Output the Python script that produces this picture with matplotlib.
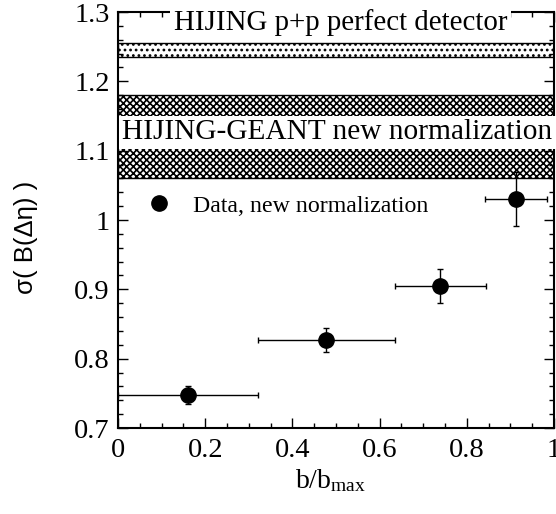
import matplotlib
matplotlib.use("Agg")
import matplotlib.pyplot as plt
from matplotlib.lines import Line2D
from matplotlib.ticker import MultipleLocator

# ---- data ----
b_frac = [0.16, 0.478, 0.739, 0.913]
b_err = [0.16, 0.158, 0.104, 0.072]
sigma = [0.748, 0.827, 0.905, 1.030]
sigma_err = [0.013, 0.017, 0.024, 0.039]

band_pp = (1.235, 1.255)        # HIJING p+p perfect detector
band_geant = (1.06, 1.18)       # HIJING-GEANT new normalization

x_ticks = [0, 0.2, 0.4, 0.6, 0.8, 1.0]
x_ticklabels = ["0", "0.2", "0.4", "0.6", "0.8", "1"]
y_ticks = [0.7, 0.8, 0.9, 1.0, 1.1, 1.2, 1.3]
y_ticklabels = ["0.7", "0.8", "0.9", "1", "1.1", "1.2", "1.3"]

label_pp = "HIJING p+p perfect detector"
label_geant = "HIJING-GEANT new normalization"
label_data = "Data, new normalization"

# ---- style ----
serif = "Liberation Serif"
plt.rcParams["font.family"] = [serif, "DejaVu Serif"]
plt.rcParams["mathtext.fontset"] = "custom"
plt.rcParams["mathtext.rm"] = serif
plt.rcParams["mathtext.it"] = serif + ":italic"
plt.rcParams["hatch.linewidth"] = 1.2

fig = plt.figure(figsize=(5.56, 5.14), dpi=100)
ax = fig.add_axes([118 / 556, 1 - 428 / 514, 436 / 556, 416 / 514])
ax.set_xlim(0, 1)
ax.set_ylim(0.7, 1.3)

# bands
ax.axhspan(band_pp[0], band_pp[1], facecolor="white", edgecolor="black",
           hatch="...", linewidth=1.0, zorder=1)
ax.axhspan(band_geant[0], band_geant[1], facecolor="white", edgecolor="black",
           hatch="xxxxx", linewidth=1.0, zorder=1)

# data points
ax.errorbar(b_frac, sigma, xerr=b_err, yerr=sigma_err, fmt="o", color="black",
            ms=11, elinewidth=1.0, capsize=2.2, capthick=1.0, zorder=3)

# labels in the bands
ax.text(0.51, 1.274, label_pp, ha="center", va="baseline", fontsize=20.8,
        bbox=dict(boxstyle="square,pad=0.12", facecolor="white", edgecolor="none"),
        zorder=5)
ax.text(0.503, 1.1167, label_geant, ha="center", va="baseline", fontsize=21.2,
        bbox=dict(boxstyle="square,pad=0.12", facecolor="white", edgecolor="none"),
        zorder=5)

# legend
handle = Line2D([], [], marker="o", linestyle="none", color="black", ms=11)
ax.legend([handle], [label_data], loc="center left",
          bbox_to_anchor=(0.067, 0.534), frameon=False, fontsize=17.2,
          handlelength=1.0, handletextpad=0.9, borderpad=0, borderaxespad=0)

# ticks
ax.set_xticks(x_ticks)
ax.set_xticklabels(x_ticklabels)
ax.set_yticks(y_ticks)
ax.set_yticklabels(y_ticklabels)
ax.xaxis.set_minor_locator(MultipleLocator(0.05))
ax.yaxis.set_minor_locator(MultipleLocator(0.02))
ax.tick_params(which="both", direction="in", top=True, right=True, width=1.0)
ax.tick_params(which="major", length=7, labelsize=20.5)
ax.tick_params(axis="x", which="major", pad=7)
ax.tick_params(axis="y", which="major", pad=6)
ax.tick_params(which="minor", length=3.6)
for s in ax.spines.values():
    s.set_linewidth(1.5)

# axis titles
fig.text(26 / 556, 1 - 237.5 / 514, "σ( B(Δη) )", rotation=90, ha="center",
         va="center", fontsize=18.5, family=["Liberation Sans", "DejaVu Sans"])
fig.text(330 / 556, 1 - 488 / 514, r"$\mathrm{b/b_{max}}$", ha="center",
         va="baseline", fontsize=20)

fig.savefig("out.png", dpi=100)
